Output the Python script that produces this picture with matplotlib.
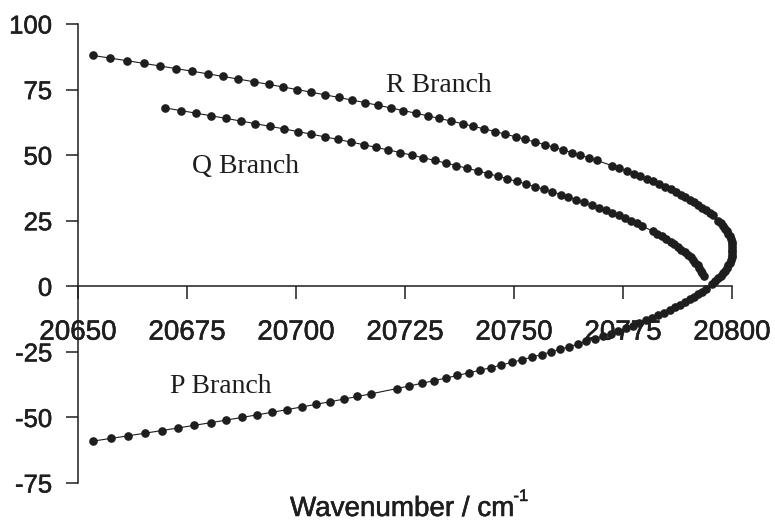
import matplotlib
matplotlib.use("Agg")
import matplotlib.pyplot as plt
import matplotlib.patheffects as pe

plt.rcParams['font.family'] = ['Liberation Sans', 'DejaVu Sans']
plt.rcParams['axes.unicode_minus'] = False

# R branch (m = J+1), two lines are missing (m=26, m=47)
r_m = [1, 2, 3, 4, 5, 6, 7, 8, 9, 10, 11, 12, 13, 14, 15, 16, 17, 18, 19, 20,
       21, 22, 23, 24, 25, 27, 28, 29, 30, 31, 32, 33, 34, 35, 36, 37, 38, 39, 40,
       41, 42, 43, 44, 45, 46, 48, 49, 50, 51, 52, 53, 54, 55, 56, 57, 58, 59, 60,
       61, 62, 63, 64, 65, 66, 67, 68, 69, 70, 71, 72, 73, 74, 75, 76, 77, 78, 79,
       80, 81, 82, 83, 84, 85, 86, 87, 88]
r_nu = [20795.5, 20796.2, 20796.8, 20797.4, 20797.9, 20798.4, 20798.8, 20799.2,
        20799.5, 20799.7, 20799.9, 20800.0, 20800.1, 20800.1, 20800.1, 20800.0,
        20799.9, 20799.7, 20799.5, 20799.2, 20798.8, 20798.4, 20798.0, 20797.4,
        20796.9, 20795.6, 20794.9, 20794.1, 20793.2, 20792.3, 20791.4, 20790.4,
        20789.3, 20788.2, 20787.1, 20785.9, 20784.6, 20783.3, 20781.9, 20780.5,
        20779.0, 20777.5, 20775.9, 20774.2, 20772.5, 20769.0, 20767.1, 20765.2,
        20763.3, 20761.2, 20759.2, 20757.1, 20754.9, 20752.6, 20750.4, 20748.0,
        20745.6, 20743.2, 20740.7, 20738.2, 20735.6, 20732.9, 20730.2, 20727.5,
        20724.6, 20721.8, 20718.9, 20715.9, 20712.9, 20709.8, 20706.7, 20703.5,
        20700.3, 20697.0, 20693.7, 20690.3, 20686.8, 20683.3, 20679.8, 20676.2,
        20672.5, 20668.8, 20665.1, 20661.3, 20657.4, 20653.5]

# Q branch (J), J=22 missing
q_j = [4, 5, 6, 7, 8, 9, 10, 11, 12, 13, 14, 15, 16, 17, 18, 19, 20, 21,
       23, 24, 25, 26, 27, 28, 29, 30, 31, 32, 33, 34, 35, 36, 37, 38, 39, 40,
       41, 42, 43, 44, 45, 46, 47, 48, 49, 50, 51, 52, 53, 54, 55, 56, 57, 58,
       59, 60, 61, 62, 63, 64, 65, 66, 67, 68]
q_nu = [20793.5, 20793.2, 20792.9, 20792.5, 20792.1, 20791.6, 20791.1, 20790.5,
        20789.9, 20789.2, 20788.4, 20787.6, 20786.8, 20785.9, 20784.9, 20783.9,
        20782.9, 20781.8, 20779.4, 20778.1, 20776.8, 20775.4, 20774.0, 20772.5,
        20771.0, 20769.4, 20767.8, 20766.1, 20764.3, 20762.5, 20760.7, 20758.8,
        20756.8, 20754.8, 20752.8, 20750.6, 20748.5, 20746.3, 20744.0, 20741.7,
        20739.3, 20736.8, 20734.4, 20731.8, 20729.2, 20726.6, 20723.9, 20721.1,
        20718.3, 20715.5, 20712.6, 20709.6, 20706.6, 20703.5, 20700.4, 20697.3,
        20694.0, 20690.7, 20687.4, 20684.0, 20680.6, 20677.1, 20673.6, 20670.0]

# P branch (m = -J), m=-40 missing
p_m = [-1, -2, -3, -4, -5, -6, -7, -8, -9, -10, -11, -12, -13, -14, -15, -16,
       -17, -18, -19, -20, -21, -22, -23, -24, -25, -26, -27, -28, -29, -30,
       -31, -32, -33, -34, -35, -36, -37, -38, -39, -41, -42, -43, -44, -45,
       -46, -47, -48, -49, -50, -51, -52, -53, -54, -55, -56, -57, -58, -59]
p_nu = [20794.0, 20793.2, 20792.3, 20791.3, 20790.3, 20789.2, 20788.1, 20786.9,
        20785.7, 20784.4, 20783.1, 20781.7, 20780.2, 20778.7, 20777.2, 20775.6,
        20773.9, 20772.2, 20770.4, 20768.5, 20766.6, 20764.7, 20762.7, 20760.6,
        20758.5, 20756.4, 20754.1, 20751.9, 20749.5, 20747.1, 20744.7, 20742.2,
        20739.6, 20737.0, 20734.3, 20731.6, 20728.8, 20726.0, 20723.1, 20717.2,
        20714.1, 20711.0, 20707.8, 20704.6, 20701.3, 20698.0, 20694.6, 20691.1,
        20687.6, 20684.0, 20680.4, 20676.7, 20673.0, 20669.2, 20665.4, 20661.5,
        20657.5, 20653.5]

x_ticks = [20650, 20675, 20700, 20725, 20750, 20775, 20800]
y_ticks = [-75, -50, -25, 0, 25, 50, 75, 100]

ink = '#1e1e1e'
bold = [pe.withStroke(linewidth=0.4, foreground=ink)]

fig = plt.figure(figsize=(7.75, 5.29), dpi=100)
ax = fig.add_axes([0.1006, 0.0869, 0.8439, 0.8677])

for xs, ys in [(r_nu, r_m), (q_nu, q_j), (p_nu, p_m)]:
    ax.plot(xs, ys, color=ink, lw=0.8, marker='o', ms=5.2, mec=ink, mfc=ink,
            zorder=3, clip_on=False)

ax.set_xlim(20650, 20800)
ax.set_ylim(-75, 100)
ax.set_xticks(x_ticks)
ax.set_yticks(y_ticks)
ax.set_xticklabels([str(v) for v in x_ticks])
ax.set_yticklabels([str(v) for v in y_ticks])

ax.spines['top'].set_visible(False)
ax.spines['right'].set_visible(False)
ax.spines['bottom'].set_position(('data', 0))
for s in ['left', 'bottom']:
    ax.spines[s].set_linewidth(1.1)
    ax.spines[s].set_color(ink)

ax.tick_params(axis='x', direction='out', length=9, width=1.1, pad=15,
               labelsize=20, colors=ink)
ax.tick_params(axis='y', direction='out', length=9, width=1.1, pad=9.5,
               labelsize=18.5, colors=ink)
for lab in ax.get_xticklabels() + ax.get_yticklabels():
    lab.set_path_effects(bold)

serif = ['Liberation Serif', 'DejaVu Serif']
fig.text(0.5665, 0.8261, 'R Branch', family=serif, fontsize=20, ha='center',
         va='baseline', color=ink)
fig.text(0.3174, 0.673, 'Q Branch', family=serif, fontsize=20, ha='center',
         va='baseline', color=ink)
fig.text(0.2852, 0.2571, 'P Branch', family=serif, fontsize=20, ha='center',
         va='baseline', color=ink)

fig.text(0.3742, 0.0246, 'Wavenumber / cm', fontsize=20, ha='left',
         va='baseline', color=ink, path_effects=bold)
fig.text(0.6625, 0.053, '-1', fontsize=12, ha='left', va='baseline', color=ink,
         path_effects=bold)

fig.savefig('out.png', dpi=100)
